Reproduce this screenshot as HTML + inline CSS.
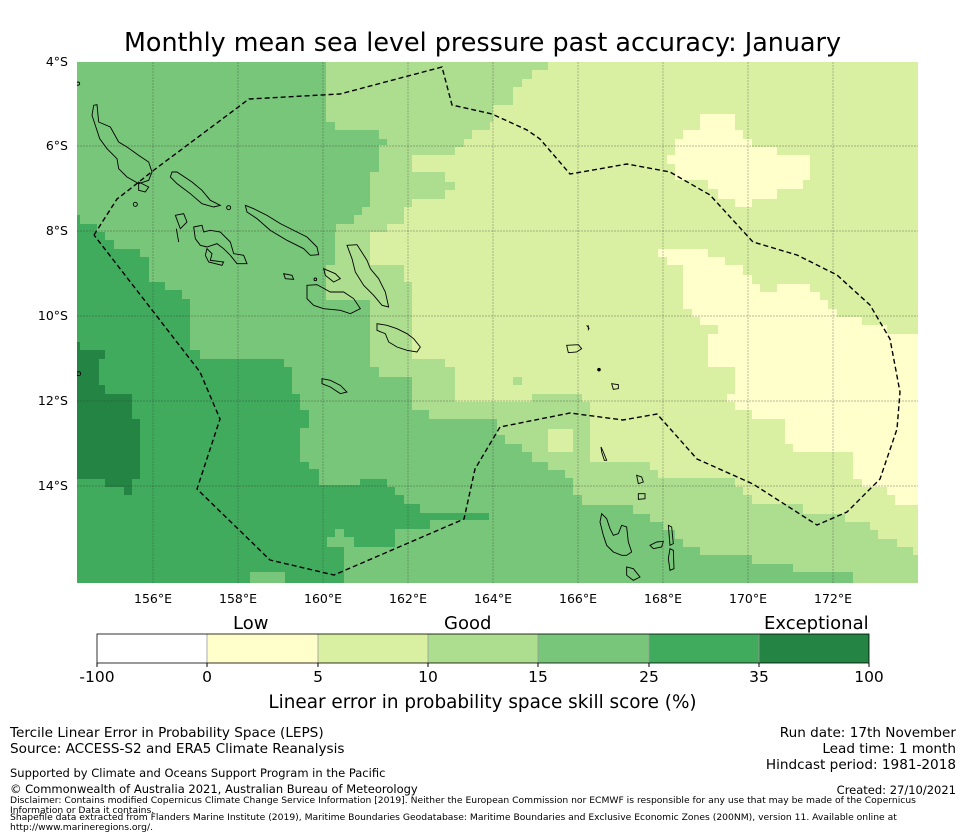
<!DOCTYPE html>
<html><head><meta charset="utf-8"><style>
body{margin:0;background:#fff;font-family:"DejaVu Sans","Liberation Sans",sans-serif;}
#wrap{position:relative;width:965px;height:839px;overflow:hidden;}
.t{position:absolute;white-space:nowrap;color:#000;}
</style></head><body>
<div id="wrap">
<div class="t" style="left:0;width:965px;text-align:center;top:27px;font-size:25.4px;">Monthly mean sea level pressure past accuracy: January</div>
<svg id="map" width="965" height="839" style="position:absolute;left:0;top:0" xmlns="http://www.w3.org/2000/svg">
<defs><clipPath id="mc"><rect x="77" y="62" width="841" height="521"/></clipPath></defs>
<g clip-path="url(#mc)">
<rect x="77" y="62" width="841" height="521" fill="#78c679"/>
<polygon fill="#addd8e" points="326,62 918,62 918,583 853,583 853,572 793,572 793,564 752,564 752,555 700,555 700,547 683,547 683,539 675,539 675,530 663,530 663,522 650,522 650,514 633,514 633,505 582,505 582,495 573,495 573,478 565,478 565,470 548,470 548,462 532,462 532,452 522,452 522,444 505,444 505,435 497,435 497,419 429,419 429,410 412,410 412,377 379,377 379,367 370,367 370,300 326,300 326,265 335,265 335,232 336,232 336,224 354,224 354,215 362,215 362,207 370,207 370,172 379,172 379,145 387,145 387,139 379,139 379,130 335,130 335,122 326,122"/>
<polygon fill="#d9f0a3" points="548,62 918,62 918,555 913,555 913,547 897,547 897,539 878,539 878,530 870,530 870,522 845,522 845,514 803,514 803,504 752,504 752,495 743,495 743,487 735,487 735,478 658,478 658,470 650,470 650,462 590,462 590,402 582,402 582,394 532,394 532,402 455,402 455,367 445,367 445,359 412,359 412,282 404,282 404,265 370,265 370,232 387,232 387,224 404,224 404,207 412,207 412,199 445,199 445,190 455,190 455,182 445,182 445,172 412,172 412,155 455,155 455,147 464,147 464,139 472,139 472,130 490,130 490,122 493,122 493,105 513,105 513,87 522,87 522,79 532,79 532,70 548,70"/>
<rect x="548" y="429" width="25" height="23" fill="#d9f0a3"/>
<rect x="513" y="377" width="9" height="8" fill="#addd8e"/>
<g fill="#ffffcc">
<rect x="700" y="114" width="35" height="16"/><rect x="683" y="130" width="60" height="9"/><rect x="675" y="139" width="77" height="8"/><rect x="675" y="147" width="102" height="8"/><rect x="667" y="155" width="143" height="9"/><rect x="675" y="164" width="135" height="16"/><rect x="708" y="180" width="95" height="9"/><rect x="718" y="189" width="59" height="10"/><rect x="735" y="199" width="17" height="8"/>
<rect x="658" y="249" width="50" height="8"/><rect x="667" y="257" width="58" height="8"/><rect x="683" y="265" width="60" height="10"/><rect x="683" y="275" width="69" height="9"/><rect x="683" y="284" width="77" height="8"/><rect x="777" y="284" width="33" height="8"/><rect x="683" y="292" width="137" height="8"/><rect x="683" y="300" width="145" height="9"/><rect x="692" y="309" width="145" height="8"/><rect x="700" y="317" width="162" height="8"/><rect x="718" y="325" width="169" height="9"/><rect x="708" y="334" width="210" height="33"/><rect x="735" y="367" width="183" height="27"/><rect x="727" y="394" width="191" height="8"/><rect x="735" y="402" width="183" height="8"/><rect x="752" y="410" width="166" height="9"/><rect x="785" y="419" width="133" height="25"/><rect x="793" y="444" width="125" height="8"/><rect x="853" y="452" width="65" height="27"/><rect x="862" y="479" width="56" height="8"/><rect x="887" y="487" width="31" height="8"/><rect x="895" y="495" width="23" height="10"/>
</g>
<polygon fill="#41ab5d" points="77,215 80,215 80,224 97,224 97,232 105,232 105,240 114,240 114,249 140,249 140,257 149,257 149,282 165,282 165,290 182,290 182,299 190,299 190,350 200,350 200,359 284,359 284,367 292,367 292,394 300,394 300,410 309,410 309,428 300,428 300,462 309,462 309,469 319,469 319,485 360,485 360,479 387,479 387,487 395,487 395,495 404,495 404,504 420,504 420,513 489,513 489,520 430,520 430,529 395,529 395,547 344,547 344,583 285,583 285,572 250,572 250,583 77,583"/>
<rect x="327" y="537" width="27" height="10" fill="#78c679"/>
<rect x="335" y="529" width="9" height="8" fill="#78c679"/>
<polygon fill="#238443" points="77,342 80,342 80,350 105,350 105,359 99,359 99,385 105,385 105,394 132,394 132,419 140,419 140,479 132,479 132,495 124,495 124,487 105,487 105,479 77,479"/>
<g stroke="#333" stroke-opacity="0.45" stroke-width="0.7" stroke-dasharray="2,1">
<line x1="153" y1="62" x2="153" y2="583"/><line x1="238" y1="62" x2="238" y2="583"/><line x1="323" y1="62" x2="323" y2="583"/><line x1="408" y1="62" x2="408" y2="583"/><line x1="493" y1="62" x2="493" y2="583"/><line x1="578" y1="62" x2="578" y2="583"/><line x1="663" y1="62" x2="663" y2="583"/><line x1="748" y1="62" x2="748" y2="583"/><line x1="833" y1="62" x2="833" y2="583"/>
<line x1="77" y1="146" x2="918" y2="146"/><line x1="77" y1="231" x2="918" y2="231"/><line x1="77" y1="316" x2="918" y2="316"/><line x1="77" y1="401" x2="918" y2="401"/><line x1="77" y1="486" x2="918" y2="486"/>
</g>
<g fill="none" stroke="#000" stroke-width="0.9">
<g transform="translate(77,62) scale(0.33333)">
<path vector-effect="non-scaling-stroke" d="M50,130 L60,128 L65,180 L100,195 L125,240 L150,255 L185,280 L215,300 L225,330 L215,355 L185,365 L150,345 L125,320 L120,290 L90,260 L68,230 L55,190 L45,160 Z"/>
<path vector-effect="non-scaling-stroke" d="M285,330 L300,330 L345,360 L375,385 L400,415 L430,430 L410,435 L375,425 L340,395 L300,365 L280,345 Z"/>
<path vector-effect="non-scaling-stroke" d="M505,430 L530,440 L570,460 L610,485 L660,510 L690,525 L720,555 L725,578 L700,580 L680,560 L630,535 L580,505 L540,470 L510,450 Z"/>
<path vector-effect="non-scaling-stroke" d="M295,460 L320,455 L330,480 L310,500 Z M350,495 L375,490 L380,510 L400,505 L430,510 L460,540 L470,575 L500,580 L510,605 L480,605 L460,580 L440,560 L420,545 L390,555 L370,550 L355,530 Z M390,560 L405,575 L400,595 L440,600 L435,610 L395,600 L385,580 Z M298,500 L305,540 M620,635 L645,640 L650,652 L625,650 Z M185,360 L215,375 L205,390 L185,385 Z"/>
<path vector-effect="non-scaling-stroke" d="M690,670 L720,668 L760,690 L800,690 L830,710 L850,740 L820,755 L790,745 L740,740 L710,730 L690,710 Z"/>
<path vector-effect="non-scaling-stroke" d="M810,550 L840,548 L870,595 L880,620 L905,650 L925,690 L935,735 L915,730 L890,700 L860,670 L835,630 L825,590 Z"/>
<path vector-effect="non-scaling-stroke" d="M740,620 L775,635 L790,650 L770,660 L745,640 Z"/>
<path vector-effect="non-scaling-stroke" d="M900,785 L930,790 L960,800 L990,815 L1010,830 L1030,855 L1020,870 L990,865 L960,855 L935,840 L925,815 L900,805 Z"/>
<path vector-effect="non-scaling-stroke" d="M735,950 L760,955 L790,970 L810,990 L790,995 L760,975 L735,965 Z"/>
<circle vector-effect="non-scaling-stroke" cx="175" cy="427" r="6"/><circle vector-effect="non-scaling-stroke" cx="455" cy="437" r="6"/><circle vector-effect="non-scaling-stroke" cx="5" cy="935" r="6"/><circle vector-effect="non-scaling-stroke" cx="715" cy="652" r="4"/><circle vector-effect="non-scaling-stroke" cx="3" cy="65" r="5"/>
</g>
<g transform="translate(470,62) scale(0.33333)">
<path vector-effect="non-scaling-stroke" d="M395,1355 L410,1370 L420,1400 L430,1420 L445,1415 L455,1390 L470,1395 L475,1440 L485,1470 L470,1480 L455,1480 L430,1470 L410,1450 L400,1420 L390,1380 Z"/>
<path vector-effect="non-scaling-stroke" d="M470,1515 L490,1520 L510,1545 L490,1555 L470,1540 Z M595,1390 L605,1395 L610,1445 L600,1450 Z M600,1460 L610,1465 L612,1520 L600,1525 L595,1490 Z M540,1450 L560,1440 L580,1438 L575,1455 L550,1460 Z M500,1240 L515,1245 L520,1260 L505,1265 Z M505,1295 L525,1295 L525,1310 L505,1312 Z M393,1155 L400,1170 L410,1195 L403,1195 L395,1170 Z M290,850 L325,848 L335,860 L320,870 L295,872 Z M425,965 L445,968 L445,980 L430,982 Z M350,790 L358,800 M355,790 L355,805"/>
<circle vector-effect="non-scaling-stroke" cx="387" cy="923" r="4" fill="#000"/>
</g>
</g>
<polyline fill="none" stroke="#000" stroke-width="1.4" stroke-dasharray="5,3" points="94,235 117,199 130,189 154,170 249,99 340,94 442,67 452,105 492,114 527,130 540,139 570,174 627,164 670,172 710,195 753,242 797,255 837,275 870,305 890,339 900,392 897,429 880,479 847,512 817,525 753,484 697,459 657,414 623,420 570,413 500,427 475,469 464,519 334,575 270,560 197,489 220,419 200,372 94,235"/>
</g>
</svg>
<div>
<div class="t" style="right:897px;top:54px;font-size:12.5px;">4°S</div>
<div class="t" style="right:897px;top:138px;font-size:12.5px;">6°S</div>
<div class="t" style="right:897px;top:223px;font-size:12.5px;">8°S</div>
<div class="t" style="right:897px;top:308px;font-size:12.5px;">10°S</div>
<div class="t" style="right:897px;top:393px;font-size:12.5px;">12°S</div>
<div class="t" style="right:897px;top:478px;font-size:12.5px;">14°S</div>
</div>
<div style="position:absolute;left:0;top:591px;font-size:12.5px;">
<div class="t" style="left:134px">156°E</div><div class="t" style="left:219px">158°E</div><div class="t" style="left:304px">160°E</div><div class="t" style="left:389px">162°E</div><div class="t" style="left:474px">164°E</div><div class="t" style="left:559px">166°E</div><div class="t" style="left:644px">168°E</div><div class="t" style="left:729px">170°E</div><div class="t" style="left:814px">172°E</div>
</div>
<div class="t" style="left:233px;top:613px;font-size:18px;">Low</div>
<div class="t" style="left:444px;top:613px;font-size:18px;">Good</div>
<div class="t" style="left:764px;top:613px;font-size:18px;">Exceptional</div>
<svg width="965" height="839" style="position:absolute;left:0;top:0">
<rect x="97" y="634" width="110" height="29" fill="#ffffff"/>
<rect x="207" y="634" width="111" height="29" fill="#ffffcc"/>
<rect x="318" y="634" width="110" height="29" fill="#d9f0a3"/>
<rect x="428" y="634" width="110" height="29" fill="#addd8e"/>
<rect x="538" y="634" width="111" height="29" fill="#78c679"/>
<rect x="649" y="634" width="110" height="29" fill="#41ab5d"/>
<rect x="759" y="634" width="110" height="29" fill="#238443"/>
<g stroke="#999" stroke-width="0.8"><line x1="207" y1="634" x2="207" y2="663"/><line x1="318" y1="634" x2="318" y2="663"/><line x1="428" y1="634" x2="428" y2="663"/><line x1="538" y1="634" x2="538" y2="663"/><line x1="649" y1="634" x2="649" y2="663"/><line x1="759" y1="634" x2="759" y2="663"/></g>
<rect x="97" y="634" width="772" height="29" fill="none" stroke="#000" stroke-width="0.8"/>
<g stroke="#000"><line x1="97" y1="663" x2="97" y2="667"/><line x1="207" y1="663" x2="207" y2="667"/><line x1="318" y1="663" x2="318" y2="667"/><line x1="428" y1="663" x2="428" y2="667"/><line x1="538" y1="663" x2="538" y2="667"/><line x1="649" y1="663" x2="649" y2="667"/><line x1="759" y1="663" x2="759" y2="667"/><line x1="869" y1="663" x2="869" y2="667"/></g>
<g font-family="DejaVu Sans, sans-serif" font-size="15.5" text-anchor="middle"><text x="97" y="682">-100</text><text x="207" y="682">0</text><text x="318" y="682">5</text><text x="428" y="682">10</text><text x="538" y="682">15</text><text x="649" y="682">25</text><text x="759" y="682">35</text><text x="869" y="682">100</text></g>
</svg>
<div class="t" style="left:0;width:965px;text-align:center;top:692px;font-size:18.4px;">Linear error in probability space skill score (%)</div>
<div class="t" style="left:10px;top:725px;font-size:13.6px;line-height:16px;">Tercile Linear Error in Probability Space (LEPS)<br>Source: ACCESS-S2 and ERA5 Climate Reanalysis</div>
<div class="t" style="right:9px;top:725px;font-size:13.6px;line-height:16px;text-align:right;">Run date: 17th November<br>Lead time: 1 month<br>Hindcast period: 1981-2018</div>
<div class="t" style="left:10px;top:766px;font-size:11.5px;">Supported by Climate and Oceans Support Program in the Pacific</div>
<div class="t" style="left:10px;top:782px;font-size:11.5px;">© Commonwealth of Australia 2021, Australian Bureau of Meteorology</div>
<div class="t" style="right:9px;top:783px;font-size:11.5px;">Created: 27/10/2021</div>
<div class="t" style="left:10px;top:796px;font-size:9.2px;line-height:10px;">Disclaimer: Contains modified Copernicus Climate Change Service Information [2019]. Neither the European Commission nor ECMWF is responsible for any use that may be made of the Copernicus<br>Information or Data it contains.</div>
<div class="t" style="left:10px;top:813px;font-size:9.2px;line-height:10px;">Shapefile data extracted from Flanders Marine Institute (2019), Maritime Boundaries Geodatabase: Maritime Boundaries and Exclusive Economic Zones (200NM), version 11. Available online at<br>http://www.marineregions.org/.</div>
</div>
</body></html>
